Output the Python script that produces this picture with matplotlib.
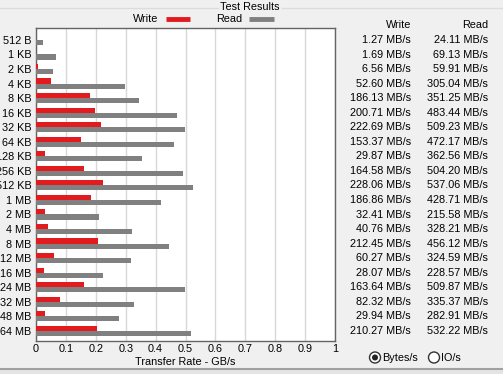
import numpy as np
import matplotlib.pyplot as plt
from matplotlib.patches import Circle
from matplotlib.lines import Line2D

# data (MB/s)
sizes = ["512 B", "1 KB", "2 KB", "4 KB", "8 KB", "16 KB", "32 KB", "64 KB", "128 KB",
         "256 KB", "512 KB", "1 MB", "2 MB", "4 MB", "8 MB", "12 MB", "16 MB", "24 MB",
         "32 MB", "48 MB", "64 MB"]
write_mbs = [1.27, 1.69, 6.56, 52.60, 186.13, 200.71, 222.69, 153.37, 29.87, 164.58,
             228.06, 186.86, 32.41, 40.76, 212.45, 60.27, 28.07, 163.64, 82.32, 29.94, 210.27]
read_mbs = [24.11, 69.13, 59.91, 305.04, 351.25, 483.44, 509.23, 472.17, 362.56, 504.20,
            537.06, 428.71, 215.58, 328.21, 456.12, 324.59, 228.57, 509.87, 335.37, 282.91, 532.22]
xticks = [0, 0.1, 0.2, 0.3, 0.4, 0.5, 0.6, 0.7, 0.8, 0.9, 1]

W, H = 503, 374
bg = "#f0f0f0"
red = "#e21b1f"
gray = "#808080"
fs = 7.8

plt.rcParams['font.family'] = ["Liberation Sans", "DejaVu Sans"]

fig = plt.figure(figsize=(W / 100, H / 100), dpi=100, facecolor=bg)


def fx(x):
    return x / W


def fy(y):
    return 1 - y / H


# chart area
ax = fig.add_axes([fx(36), fy(341), fx(335) - fx(36), fy(28) - fy(341)])
ax.set_facecolor("white")
pos = np.arange(len(sizes))
bh = 0.35
write_gb = np.array(write_mbs) / 1024
read_gb = np.array(read_mbs) / 1024
ax.barh(pos - bh / 2, write_gb, height=bh, color=red, zorder=3)
ax.barh(pos + bh / 2, read_gb, height=bh, color=gray, zorder=3)
ax.set_xlim(0, 1)
ax.set_ylim(20.7, -0.82)
ax.set_yticks(pos)
ax.set_yticklabels(sizes, fontsize=fs)
ax.set_xticks(xticks)
ax.set_xticklabels([f"{t:g}" for t in xticks], fontsize=fs)
ax.tick_params(axis="y", length=0, pad=3.2)
ax.tick_params(axis="x", length=0, pad=2.5)
ax.grid(axis="x", color="#d8d8d8", linewidth=1, zorder=0)
for s in ax.spines.values():
    s.set_color("#646464")
    s.set_linewidth(1)
ax.set_xlabel("Transfer Rate - GB/s", fontsize=fs, labelpad=2)

# group box line and title
fig.add_artist(Line2D([0, fx(218)], [fy(7.5)] * 2, color="#dcdcdc", lw=1))
fig.add_artist(Line2D([fx(282), 1], [fy(7.5)] * 2, color="#dcdcdc", lw=1))
fig.text(fx(250), fy(7), "Test Results", ha="center", va="center", fontsize=fs)

# legend
fig.text(fx(158), fy(19), "Write", ha="right", va="center", fontsize=fs)
fig.add_artist(Line2D([fx(166), fx(190)], [fy(19)] * 2, color=red, lw=3.5, solid_capstyle="butt"))
fig.text(fx(216), fy(19), "Read", ha="left", va="center", fontsize=fs)
fig.add_artist(Line2D([fx(249), fx(274)], [fy(19)] * 2, color=gray, lw=3.5, solid_capstyle="butt"))

# value table
fig.text(fx(411), fy(25), "Write", ha="right", va="center", fontsize=fs)
fig.text(fx(488), fy(25), "Read", ha="right", va="center", fontsize=fs)
for i in range(len(sizes)):
    y = 40 + i * (331 - 40) / 20
    fig.text(fx(411), fy(y), f"{write_mbs[i]:.2f} MB/s", ha="right", va="center", fontsize=fs)
    fig.text(fx(488), fy(y), f"{read_mbs[i]:.2f} MB/s", ha="right", va="center", fontsize=fs)

# radio buttons
rad = fig.add_axes([0, 0, 1, 1], facecolor="none")
rad.set_xlim(0, W)
rad.set_ylim(H, 0)
rad.set_aspect("equal")
rad.axis("off")
rad.add_patch(Circle((375, 357.5), 5.5, fc="white", ec="#333333", lw=1))
rad.add_patch(Circle((375, 357.5), 3, fc="#222222", ec="none"))
rad.add_patch(Circle((434, 357.5), 5.5, fc="white", ec="#333333", lw=1))
rad.text(382, 358, "Bytes/s", ha="left", va="center", fontsize=fs)
rad.text(441, 358, "IO/s", ha="left", va="center", fontsize=fs)

# window bottom border
rad.plot([0, W], [369, 369], color="#a0a0a0", lw=1.5)
rad.add_patch(plt.Rectangle((0, 370), W, 4, fc="#e4e4e4", ec="none"))

fig.savefig("out.png", dpi=100, facecolor=bg)
